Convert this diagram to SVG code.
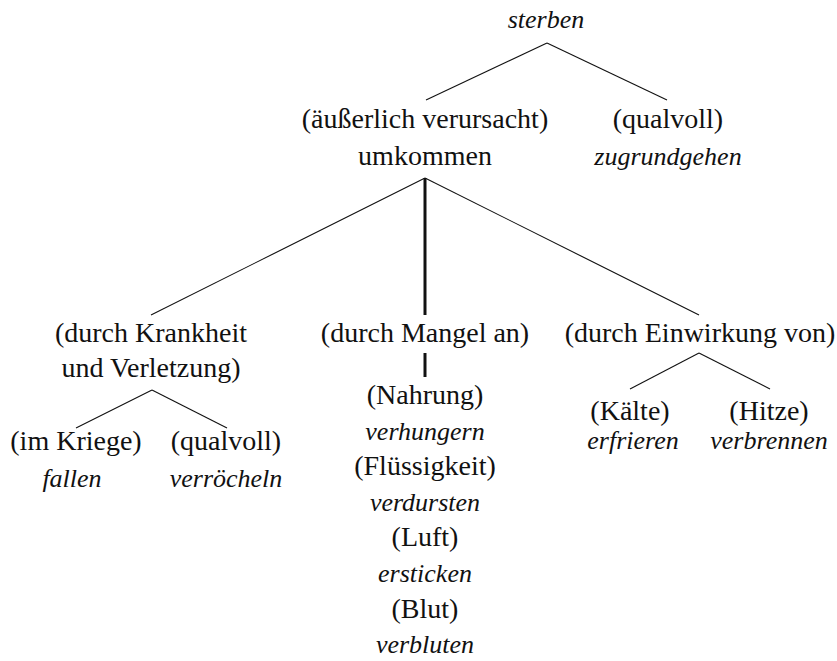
<svg xmlns="http://www.w3.org/2000/svg" width="837" height="661" viewBox="0 0 837 661">
  <style>
    text { font-family: "Liberation Serif", "Times New Roman", serif; fill: #111; text-anchor: middle; }
    .r { font-size: 28px; }
    .i { font-size: 26px; font-style: italic; }
    .edge { stroke: #111; stroke-width: 1.1; fill: none; }
    .bold { stroke: #111; stroke-width: 3; fill: none; }
  </style>
  <rect width="837" height="661" fill="#ffffff"/>

  <!-- tree edges; the heavy stroke marks the "Mangel" branch -->
  <g id="connectors">
    <line class="edge" x1="547" y1="43" x2="426" y2="100"/>
    <line class="edge" x1="547" y1="43" x2="667" y2="100"/>
    <line class="edge" x1="425" y1="178" x2="151" y2="315"/>
    <line class="edge" x1="425" y1="178" x2="699" y2="315"/>
    <line class="bold" x1="425" y1="178" x2="425" y2="315"/>
    <line class="bold" x1="425" y1="353" x2="425" y2="377"/>
    <line class="edge" x1="152" y1="390" x2="76" y2="428"/>
    <line class="edge" x1="152" y1="390" x2="227" y2="428"/>
    <line class="edge" x1="699" y1="353" x2="630" y2="389"/>
    <line class="edge" x1="699" y1="353" x2="770" y2="389"/>
  </g>

  <g id="sterben">
    <text class="i" x="546" y="28">sterben</text>
  </g>
  <g id="umkommen">
    <text class="r" x="425" y="128">(äußerlich verursacht)</text>
    <text class="r" x="425" y="165">umkommen</text>
  </g>
  <g id="zugrundgehen">
    <text class="r" x="668" y="128">(qualvoll)</text>
    <text class="i" x="668" y="165">zugrundgehen</text>
  </g>
  <g id="krankheit">
    <text class="r" x="151" y="342">(durch Krankheit</text>
    <text class="r" x="151" y="377">und Verletzung)</text>
  </g>
  <g id="mangel">
    <text class="r" x="425" y="342">(durch Mangel an)</text>
  </g>
  <g id="einwirkung">
    <text class="r" x="700" y="342">(durch Einwirkung von)</text>
  </g>
  <g id="fallen">
    <text class="r" x="76" y="450">(im Kriege)</text>
    <text class="i" x="72" y="487">fallen</text>
  </g>
  <g id="verroecheln">
    <text class="r" x="226" y="450">(qualvoll)</text>
    <text class="i" x="226" y="487">verröcheln</text>
  </g>
  <g id="mangel-list">
    <text class="r" x="425" y="404">(Nahrung)</text>
    <text class="i" x="425" y="439.6">verhungern</text>
    <text class="r" x="425" y="475.2">(Flüssigkeit)</text>
    <text class="i" x="425" y="510.8">verdursten</text>
    <text class="r" x="425" y="546.4">(Luft)</text>
    <text class="i" x="425" y="582">ersticken</text>
    <text class="r" x="425" y="617.6">(Blut)</text>
    <text class="i" x="425" y="653.2">verbluten</text>
  </g>
  <g id="erfrieren">
    <text class="r" x="630" y="420">(Kälte)</text>
    <text class="i" x="633" y="449">erfrieren</text>
  </g>
  <g id="verbrennen">
    <text class="r" x="769" y="420">(Hitze)</text>
    <text class="i" x="769" y="449">verbrennen</text>
  </g>
</svg>
